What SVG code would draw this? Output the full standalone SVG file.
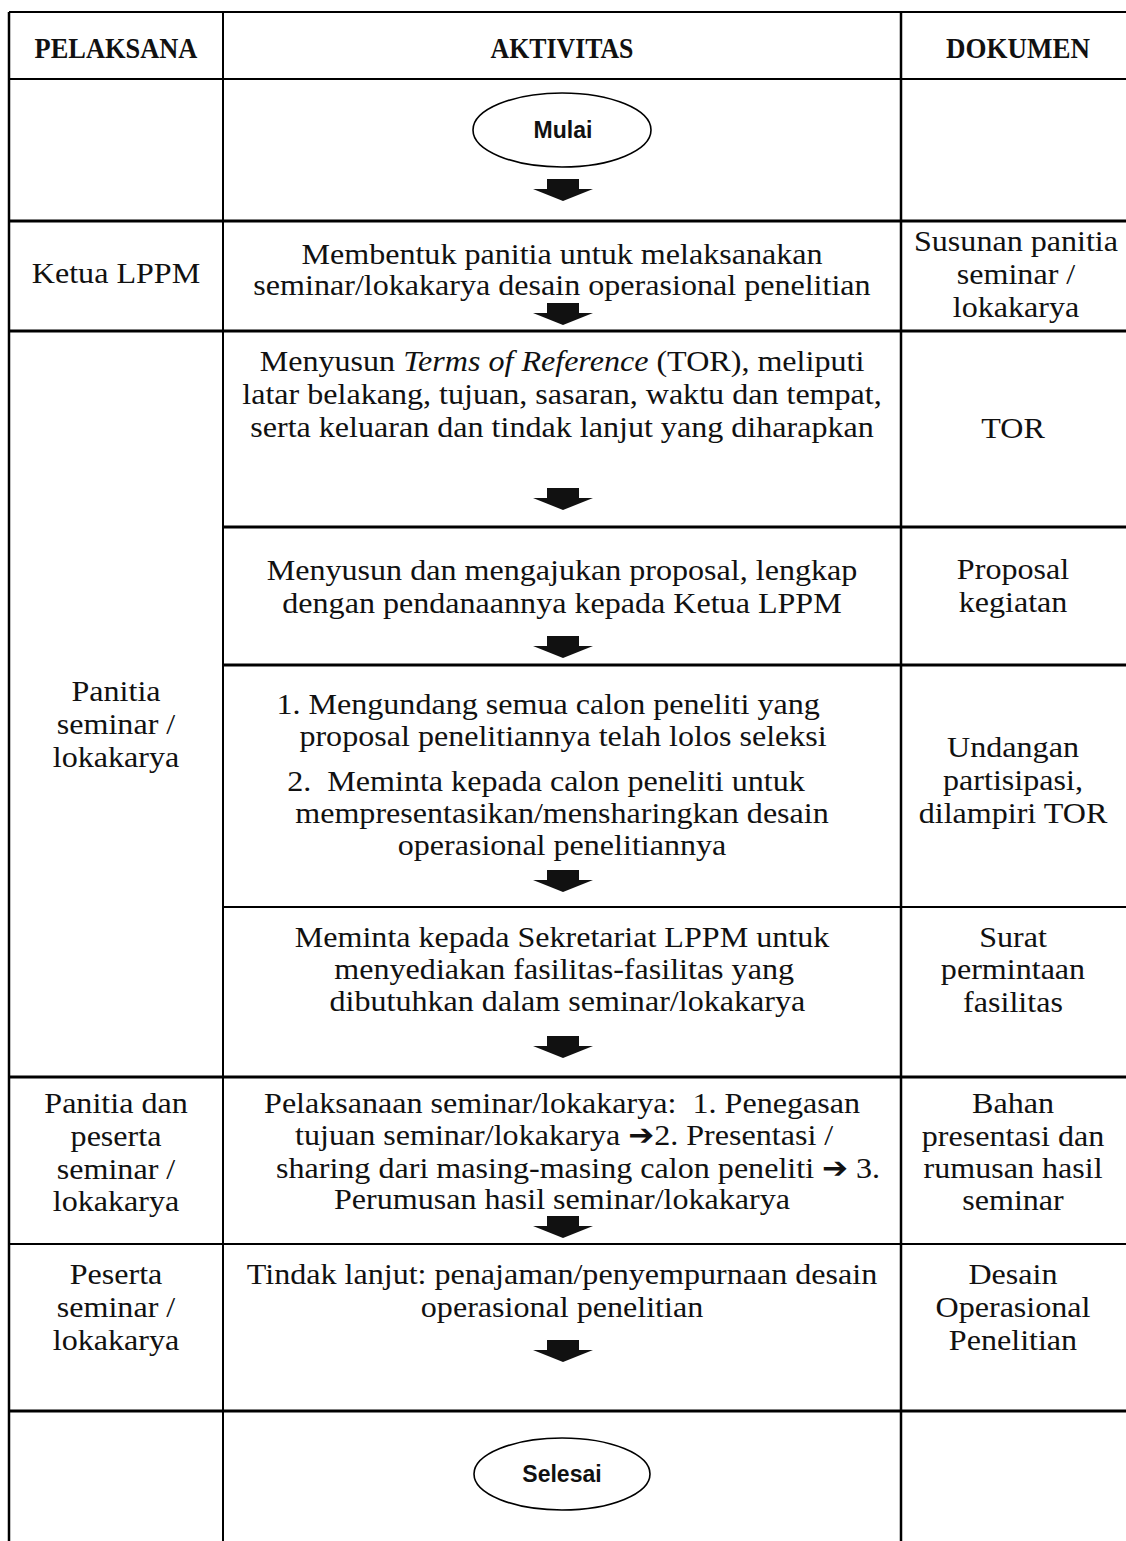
<svg xmlns="http://www.w3.org/2000/svg" width="1126" height="1541" viewBox="0 0 1126 1541">
  <style>
    .grid { stroke: #000; fill: none; }
    .t { font-family: "Liberation Serif", "Times New Roman", serif; font-size: 30px; fill: #111; text-anchor: middle; }
    .h { font-family: "Liberation Serif", "Times New Roman", serif; font-size: 30px; font-weight: bold; fill: #111; text-anchor: middle; }
    .term { fill: #fff; stroke: #000; stroke-width: 1.6; }
    .tl { font-family: "Liberation Sans", Arial, sans-serif; font-size: 23px; font-weight: bold; fill: #111; text-anchor: middle; }
    .ar { font-family: "DejaVu Sans", sans-serif; font-size: 29px; font-weight: bold; }
    .it { font-style: italic; }
  </style>
  <defs>
    <!-- block arrow pointing down, origin at the top centre of the shaft -->
    <path id="down" d="M-16,0 H16 V10 H30 L0,22 L-30,10 H-16 Z" fill="#111"/>
  </defs>
  <rect width="1126" height="1541" fill="#fff"/>

  <!-- table rules -->
  <g id="table" class="grid">
    <line x1="9" y1="12" x2="1126" y2="12" stroke-width="2"/>
    <line x1="9" y1="12" x2="9" y2="1541" stroke-width="2.5"/>
    <line x1="223" y1="12" x2="223" y2="1541" stroke-width="2"/>
    <line x1="901" y1="12" x2="901" y2="1541" stroke-width="2.5"/>
    <line x1="9" y1="79" x2="1126" y2="79" stroke-width="2"/>
    <line x1="9" y1="221" x2="1126" y2="221" stroke-width="3"/>
    <line x1="9" y1="331" x2="1126" y2="331" stroke-width="3"/>
    <line x1="223" y1="527" x2="1126" y2="527" stroke-width="3"/>
    <line x1="223" y1="665" x2="1126" y2="665" stroke-width="3"/>
    <line x1="223" y1="907" x2="1126" y2="907" stroke-width="2"/>
    <line x1="9" y1="1077" x2="1126" y2="1077" stroke-width="3"/>
    <line x1="9" y1="1244" x2="1126" y2="1244" stroke-width="2"/>
    <line x1="9" y1="1411" x2="1126" y2="1411" stroke-width="3"/>
  </g>

  <!-- column headings -->
  <g id="header">
    <text class="h" transform="translate(116 58) scale(0.88 1)">PELAKSANA</text>
    <text class="h" transform="translate(562 58) scale(0.86 1)">AKTIVITAS</text>
    <text class="h" transform="translate(1018 58) scale(0.9 1)">DOKUMEN</text>
  </g>

  <g id="mulai">
    <ellipse class="term" cx="562" cy="130" rx="89" ry="37"/>
    <text class="tl" x="563" y="138">Mulai</text>
  </g>

  <g id="step-panitia">
    <text class="t" transform="translate(116 283) scale(1.07 1)">Ketua LPPM</text>
    <g transform="translate(562 0) scale(1.07 1)">
      <text class="t" x="0" y="264">Membentuk panitia untuk melaksanakan</text>
      <text class="t" x="0" y="295">seminar/lokakarya desain operasional penelitian</text>
    </g>
    <g transform="translate(1016 0) scale(1.07 1)">
      <text class="t" x="0" y="251">Susunan panitia</text>
      <text class="t" x="0" y="284">seminar /</text>
      <text class="t" x="0" y="317">lokakarya</text>
    </g>
  </g>

  <g id="step-tor">
    <g transform="translate(116 0) scale(1.07 1)">
      <text class="t" x="0" y="701">Panitia</text>
      <text class="t" x="0" y="734">seminar /</text>
      <text class="t" x="0" y="767">lokakarya</text>
    </g>
    <g transform="translate(562 0) scale(1.07 1)">
      <text class="t" x="0" y="371">Menyusun <tspan class="it">Terms of Reference</tspan> (TOR), meliputi</text>
      <text class="t" x="0" y="404">latar belakang, tujuan, sasaran, waktu dan tempat,</text>
      <text class="t" x="0" y="437">serta keluaran dan tindak lanjut yang diharapkan</text>
    </g>
    <text class="t" transform="translate(1013 438) scale(1.07 1)">TOR</text>
  </g>

  <g id="step-proposal">
    <g transform="translate(562 0) scale(1.07 1)">
      <text class="t" x="0" y="580">Menyusun dan mengajukan proposal, lengkap</text>
      <text class="t" x="0" y="613">dengan pendanaannya kepada Ketua LPPM</text>
    </g>
    <g transform="translate(1013 0) scale(1.07 1)">
      <text class="t" x="0" y="579">Proposal</text>
      <text class="t" x="0" y="612">kegiatan</text>
    </g>
  </g>

  <g id="step-undangan">
    <g transform="translate(562 0) scale(1.07 1)">
      <text class="t" x="-13" y="714">1. Mengundang semua calon peneliti yang</text>
      <text class="t" x="1" y="746">proposal penelitiannya telah lolos seleksi</text>
      <text class="t" x="-15" y="791" xml:space="preserve">2.  Meminta kepada calon peneliti untuk</text>
      <text class="t" x="0" y="823">mempresentasikan/mensharingkan desain</text>
      <text class="t" x="0" y="855">operasional penelitiannya</text>
    </g>
    <g transform="translate(1013 0) scale(1.07 1)">
      <text class="t" x="0" y="757">Undangan</text>
      <text class="t" x="0" y="790">partisipasi,</text>
      <text class="t" x="0" y="823">dilampiri TOR</text>
    </g>
  </g>

  <g id="step-fasilitas">
    <g transform="translate(562 0) scale(1.07 1)">
      <text class="t" x="0" y="947">Meminta kepada Sekretariat LPPM untuk</text>
      <text class="t" x="2" y="979">menyediakan fasilitas-fasilitas yang</text>
      <text class="t" x="5" y="1011">dibutuhkan dalam seminar/lokakarya</text>
    </g>
    <g transform="translate(1013 0) scale(1.07 1)">
      <text class="t" x="0" y="947">Surat</text>
      <text class="t" x="0" y="979">permintaan</text>
      <text class="t" x="0" y="1012">fasilitas</text>
    </g>
  </g>

  <g id="step-pelaksanaan">
    <g transform="translate(116 0) scale(1.07 1)">
      <text class="t" x="0" y="1113">Panitia dan</text>
      <text class="t" x="0" y="1146">peserta</text>
      <text class="t" x="0" y="1179">seminar /</text>
      <text class="t" x="0" y="1211">lokakarya</text>
    </g>
    <g transform="translate(562 0) scale(1.07 1)">
      <text class="t" x="0" y="1113" xml:space="preserve">Pelaksanaan seminar/lokakarya:  1. Penegasan</text>
      <text class="t" x="2" y="1145">tujuan seminar/lokakarya <tspan class="ar">➔</tspan>2. Presentasi /</text>
      <text class="t" x="15" y="1178">sharing dari masing-masing calon peneliti <tspan class="ar">➔</tspan> 3.</text>
      <text class="t" x="0" y="1209">Perumusan hasil seminar/lokakarya</text>
    </g>
    <g transform="translate(1013 0) scale(1.07 1)">
      <text class="t" x="0" y="1113">Bahan</text>
      <text class="t" x="0" y="1146">presentasi dan</text>
      <text class="t" x="0" y="1178">rumusan hasil</text>
      <text class="t" x="0" y="1210">seminar</text>
    </g>
  </g>

  <g id="step-tindak-lanjut">
    <g transform="translate(116 0) scale(1.07 1)">
      <text class="t" x="0" y="1284">Peserta</text>
      <text class="t" x="0" y="1317">seminar /</text>
      <text class="t" x="0" y="1350">lokakarya</text>
    </g>
    <g transform="translate(562 0) scale(1.07 1)">
      <text class="t" x="0" y="1284">Tindak lanjut: penajaman/penyempurnaan desain</text>
      <text class="t" x="0" y="1317">operasional penelitian</text>
    </g>
    <g transform="translate(1013 0) scale(1.07 1)">
      <text class="t" x="0" y="1284">Desain</text>
      <text class="t" x="0" y="1317">Operasional</text>
      <text class="t" x="0" y="1350">Penelitian</text>
    </g>
  </g>

  <g id="selesai">
    <ellipse class="term" cx="562" cy="1474" rx="88" ry="36"/>
    <text class="tl" x="562" y="1482">Selesai</text>
  </g>

  <!-- flow arrows between the steps -->
  <g id="connectors">
    <use href="#down" x="563" y="179"/>
    <use href="#down" x="563" y="303"/>
    <use href="#down" x="563" y="488"/>
    <use href="#down" x="563" y="636"/>
    <use href="#down" x="563" y="870"/>
    <use href="#down" x="563" y="1036"/>
    <use href="#down" x="563" y="1216"/>
    <use href="#down" x="563" y="1340"/>
  </g>
</svg>
